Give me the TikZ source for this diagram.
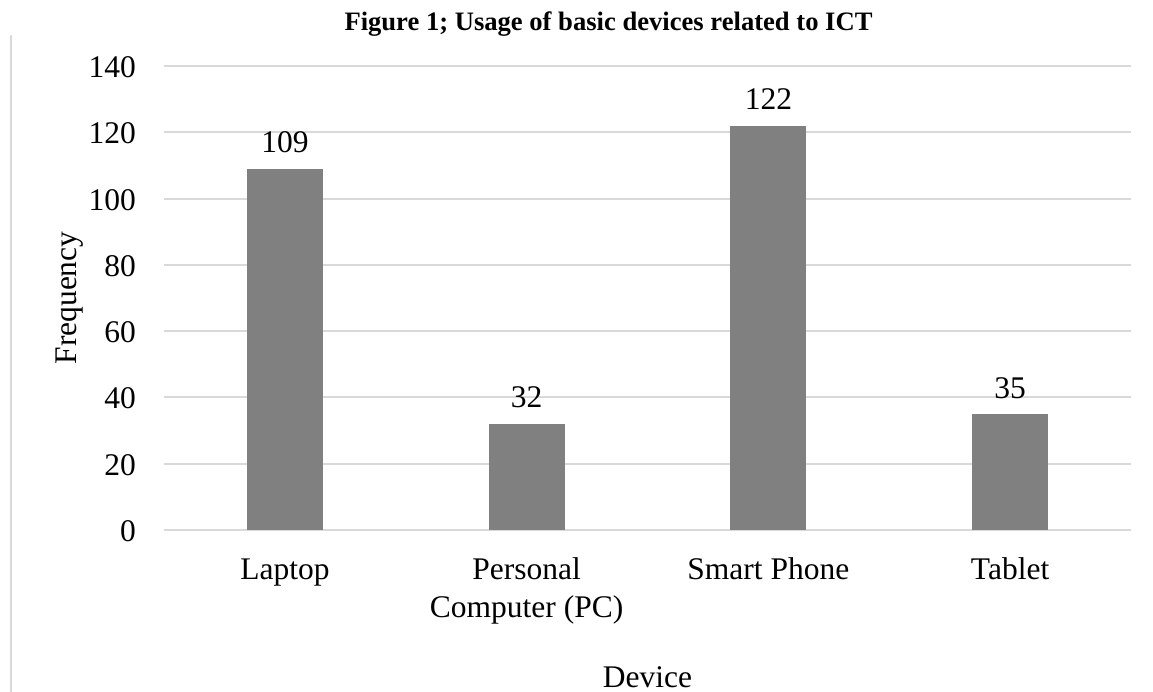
\documentclass[tikz,border=0pt]{standalone}
\usepackage{fontspec}
\setmainfont{Liberation Serif}
\definecolor{gridgray}{HTML}{D9D9D9}
\definecolor{bargray}{HTML}{808080}
\tikzset{
  gridline/.style={draw=gridgray, line width=2pt},
  barfill/.style={fill=bargray},
  lbl/.style={font=\fontsize{31.5}{37}\selectfont, inner sep=0pt},
  ticklbl/.style={lbl, anchor=base east},
  ttl/.style={font=\fontsize{26.6}{31}\selectfont\bfseries, inner sep=0pt, anchor=base},
}
\begin{document}
\begin{tikzpicture}[x=1pt,y=-1pt]
\useasboundingbox (0,0) rectangle (1153,692);
% left border line
\draw[gridgray, line width=2pt] (11,35) -- (11,692);
% title
\node[ttl] (title) at (608.5,31) {Figure 1; Usage of basic devices related to ICT};
% gridlines and tick labels
\foreach \v in {0,20,...,140}{
  \pgfmathsetmacro{\yy}{530-\v*3.3142857}
  \draw[gridline] (164,\yy) -- (1131,\yy);
  \node[ticklbl] (tick\v) at (136,\yy+11.5) {\v};
}
% bars and value labels
\foreach \c/\val/\nm in {284.9/109/laptop, 526.6/32/pc, 768.4/122/phone, 1010.1/35/tablet}{
  \pgfmathsetmacro{\bartop}{530-\val*3.3142857}
  \fill[barfill] (\c-38,530) rectangle (\c+38,\bartop);
  \node[lbl, anchor=base] (val\nm) at (\c,\bartop-16) {\val};
}
% category labels
\node[lbl, anchor=base] (catlaptop) at (284.9,579.5) {Laptop};
\node[lbl, anchor=base] (catpc1) at (526.6,579.5) {Personal};
\node[lbl, anchor=base] (catpc2) at (526.6,617) {Computer (PC)};
\node[lbl, anchor=base] (catphone) at (768.4,579.5) {Smart Phone};
\node[lbl, anchor=base] (cattablet) at (1010.1,579.5) {Tablet};
% axis titles
\node[lbl, anchor=base] (xtitle) at (647.5,687.5) {Device};
\node[lbl, anchor=base, rotate=90] (ytitle) at (76.5,298) {Frequency};
\end{tikzpicture}
\end{document}
